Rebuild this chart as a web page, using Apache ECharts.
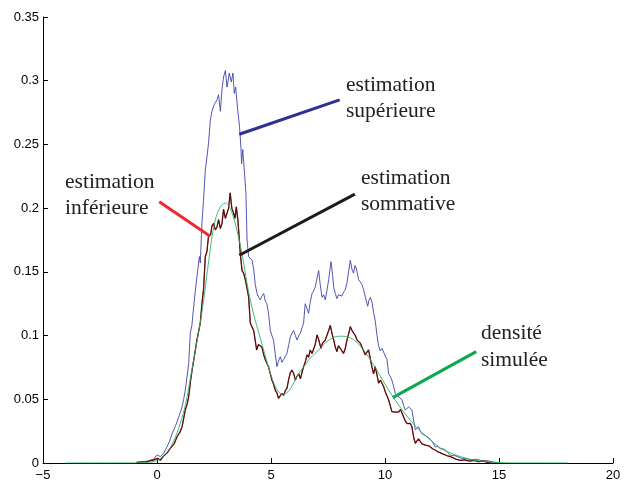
<!DOCTYPE html>
<html>
<head>
<meta charset="utf-8">
<script src="https://cdn.jsdelivr.net/npm/echarts@6/dist/echarts.min.js"></script>
<style>
html, body { margin: 0; padding: 0; background: #fff; }
#chart { width: 624px; height: 483px; }
</style>
</head>
<body>
<div id="chart"></div>
<script>
// courbes, [x, densité]
const densiteSimulee = [
  [-4, 0], [-3, 0], [-2, 0], [-1, 0], [-0.5, 0.0003], [0, 0.002], [0.25, 0.005], [0.5, 0.01],
  [0.75, 0.018], [1, 0.03], [1.25, 0.046], [1.5, 0.07], [1.75, 0.095], [2, 0.122],
  [2.25, 0.156], [2.5, 0.186], [2.75, 0.2], [3, 0.204], [3.25, 0.198], [3.5, 0.183],
  [3.75, 0.162], [4, 0.136], [4.25, 0.116], [4.5, 0.1], [4.75, 0.084], [5, 0.069],
  [5.25, 0.058], [5.5, 0.054], [5.75, 0.056], [6, 0.063], [6.25, 0.071], [6.5, 0.077],
  [6.75, 0.083], [7, 0.087], [7.5, 0.096], [8, 0.0995], [8.5, 0.098], [9, 0.09],
  [9.5, 0.077], [10, 0.062], [10.5, 0.048], [11, 0.036], [11.5, 0.026], [12, 0.018],
  [12.5, 0.011], [13, 0.007], [13.5, 0.004], [14, 0.002], [14.5, 0.001], [15, 0.0003],
  [16, 0], [17, 0], [18, 0]
];

const sommative = [
  [-0.9, 0.0005], [-0.5, 0.001], [-0.2, 0.002], [0.03, 0.0037], [0.15, 0.002], [0.29, 0.0055],
  [0.45, 0.008], [0.58, 0.0115], [0.75, 0.015], [0.88, 0.0206], [1.0, 0.024], [1.1, 0.0285],
  [1.17, 0.035], [1.24, 0.0416], [1.32, 0.046], [1.39, 0.052], [1.46, 0.063], [1.54, 0.073],
  [1.65, 0.085], [1.75, 0.0965], [1.83, 0.098], [1.9, 0.11], [1.97, 0.125], [2.04, 0.136],
  [2.12, 0.162], [2.19, 0.166], [2.26, 0.178], [2.35, 0.179], [2.41, 0.186], [2.48, 0.188],
  [2.56, 0.183], [2.63, 0.185], [2.7, 0.191], [2.78, 0.184], [2.85, 0.188], [2.92, 0.199],
  [3.0, 0.192], [3.07, 0.196], [3.14, 0.2], [3.21, 0.212], [3.28, 0.2], [3.36, 0.196],
  [3.42, 0.192], [3.48, 0.201], [3.55, 0.19], [3.58, 0.183], [3.65, 0.165], [3.73, 0.151],
  [3.8, 0.149], [3.87, 0.144], [3.95, 0.137], [4.02, 0.13], [4.09, 0.11], [4.16, 0.107],
  [4.24, 0.104], [4.3, 0.097], [4.37, 0.0887], [4.45, 0.093], [4.53, 0.094], [4.6, 0.091],
  [4.68, 0.085], [4.75, 0.081], [4.82, 0.08], [4.89, 0.0756], [4.97, 0.07], [5.04, 0.065],
  [5.11, 0.062], [5.19, 0.057], [5.26, 0.055], [5.33, 0.0508], [5.41, 0.052], [5.48, 0.0547],
  [5.55, 0.053], [5.63, 0.057], [5.7, 0.0586], [5.78, 0.066], [5.85, 0.071], [5.92, 0.073],
  [6.0, 0.07], [6.07, 0.065], [6.14, 0.068], [6.22, 0.07], [6.29, 0.066], [6.36, 0.071],
  [6.43, 0.0756], [6.5, 0.079], [6.58, 0.0848], [6.65, 0.083], [6.72, 0.0887], [6.8, 0.086],
  [6.87, 0.0848], [6.94, 0.093], [7.02, 0.1005], [7.09, 0.097], [7.19, 0.09], [7.26, 0.094],
  [7.31, 0.093], [7.38, 0.0965], [7.45, 0.1], [7.53, 0.104], [7.6, 0.108], [7.67, 0.102],
  [7.75, 0.0965], [7.82, 0.091], [7.89, 0.0874], [7.96, 0.092], [8.04, 0.09], [8.11, 0.088],
  [8.18, 0.086], [8.26, 0.09], [8.33, 0.0965], [8.4, 0.101], [8.48, 0.107], [8.55, 0.104],
  [8.62, 0.103], [8.7, 0.1], [8.77, 0.0965], [8.84, 0.097], [8.92, 0.094], [8.99, 0.0926],
  [9.06, 0.088], [9.14, 0.0848], [9.21, 0.087], [9.28, 0.0887], [9.36, 0.088], [9.43, 0.075],
  [9.5, 0.07], [9.57, 0.0756], [9.65, 0.069], [9.72, 0.0626], [9.8, 0.065], [9.87, 0.066],
  [9.94, 0.06], [10.01, 0.056], [10.08, 0.053], [10.16, 0.0494], [10.23, 0.045], [10.3, 0.0403],
  [10.38, 0.039], [10.45, 0.04], [10.53, 0.039], [10.6, 0.04], [10.68, 0.042], [10.75, 0.0416],
  [10.82, 0.036], [10.89, 0.033], [10.96, 0.031], [11.04, 0.03], [11.11, 0.031], [11.18, 0.0285],
  [11.26, 0.02], [11.33, 0.0155], [11.4, 0.017], [11.47, 0.019], [11.55, 0.018], [11.62, 0.015],
  [11.7, 0.016], [11.77, 0.014], [11.85, 0.013], [11.92, 0.0135], [11.99, 0.0128], [12.1, 0.011],
  [12.2, 0.0102], [12.3, 0.009], [12.43, 0.008], [12.55, 0.007], [12.65, 0.0063], [12.75, 0.0055],
  [12.87, 0.005], [13.0, 0.004], [13.1, 0.003], [13.3, 0.002], [13.5, 0.0025], [13.7, 0.0015],
  [13.9, 0.002], [14.1, 0.001], [14.3, 0.0015], [14.5, 0.0005], [14.7, 0]
];

// l'estimation inférieure est confondue avec la sommative sur la figure
const inferieure = sommative;

const superieure = [
  [-0.45, 0.0005], [-0.29, 0.0024], [-0.15, 0.003], [0, 0.0063], [0.08, 0.007], [0.15, 0.005],
  [0.3, 0.008], [0.44, 0.0128], [0.55, 0.017], [0.66, 0.023], [0.8, 0.0285], [0.95, 0.036],
  [1.03, 0.04], [1.1, 0.044], [1.17, 0.05], [1.24, 0.057], [1.32, 0.056], [1.39, 0.078],
  [1.46, 0.102], [1.53, 0.108], [1.61, 0.123], [1.68, 0.135], [1.75, 0.146], [1.86, 0.162],
  [1.9, 0.157], [1.97, 0.188], [2.04, 0.206], [2.12, 0.23], [2.19, 0.24], [2.26, 0.251],
  [2.34, 0.269], [2.41, 0.276], [2.48, 0.28], [2.56, 0.283], [2.63, 0.285], [2.7, 0.289],
  [2.78, 0.276], [2.85, 0.293], [2.92, 0.303], [3.0, 0.308], [3.07, 0.295], [3.12, 0.3],
  [3.17, 0.306], [3.26, 0.299], [3.33, 0.306], [3.39, 0.29], [3.45, 0.295], [3.54, 0.277],
  [3.62, 0.264], [3.68, 0.248], [3.71, 0.235], [3.76, 0.246], [3.84, 0.227], [3.9, 0.212],
  [3.95, 0.175], [4.02, 0.162], [4.1, 0.163], [4.17, 0.159], [4.24, 0.152], [4.31, 0.14],
  [4.39, 0.133], [4.46, 0.13], [4.53, 0.128], [4.6, 0.131], [4.68, 0.133], [4.75, 0.127],
  [4.82, 0.125], [4.89, 0.1175], [4.97, 0.104], [5.04, 0.1], [5.11, 0.0965], [5.19, 0.085],
  [5.26, 0.0756], [5.33, 0.08], [5.41, 0.0834], [5.48, 0.079], [5.55, 0.081], [5.63, 0.084],
  [5.7, 0.086], [5.78, 0.093], [5.85, 0.099], [5.92, 0.102], [5.99, 0.104], [6.07, 0.1],
  [6.14, 0.0965], [6.22, 0.1], [6.29, 0.102], [6.36, 0.106], [6.43, 0.11], [6.5, 0.125],
  [6.58, 0.121], [6.65, 0.1175], [6.72, 0.126], [6.8, 0.133], [6.87, 0.135], [6.94, 0.138],
  [7.02, 0.145], [7.09, 0.151], [7.16, 0.14], [7.24, 0.13], [7.31, 0.132], [7.38, 0.128],
  [7.45, 0.135], [7.53, 0.144], [7.63, 0.158], [7.7, 0.148], [7.75, 0.138], [7.82, 0.133],
  [7.89, 0.129], [7.96, 0.132], [8.04, 0.133], [8.11, 0.131], [8.18, 0.134], [8.26, 0.136],
  [8.33, 0.141], [8.4, 0.15], [8.48, 0.159], [8.55, 0.152], [8.62, 0.149], [8.68, 0.155],
  [8.74, 0.153], [8.84, 0.144], [8.92, 0.143], [8.99, 0.14], [9.06, 0.136], [9.14, 0.13],
  [9.24, 0.123], [9.3, 0.128], [9.36, 0.13], [9.43, 0.126], [9.5, 0.118], [9.57, 0.112],
  [9.65, 0.1], [9.72, 0.092], [9.79, 0.088], [9.87, 0.09], [9.94, 0.091], [10.01, 0.084],
  [10.09, 0.081], [10.16, 0.07], [10.23, 0.068], [10.3, 0.065], [10.38, 0.06], [10.45, 0.0547],
  [10.53, 0.055], [10.6, 0.052], [10.68, 0.051], [10.75, 0.0494], [10.82, 0.045], [10.89, 0.0416],
  [10.96, 0.043], [11.04, 0.044], [11.11, 0.043], [11.18, 0.0416], [11.26, 0.033], [11.33, 0.026],
  [11.4, 0.027], [11.47, 0.0285], [11.55, 0.025], [11.62, 0.023], [11.7, 0.022], [11.77, 0.0215],
  [11.84, 0.021], [11.91, 0.02], [11.99, 0.019], [12.06, 0.017], [12.13, 0.015], [12.2, 0.0128],
  [12.28, 0.013], [12.35, 0.0128], [12.43, 0.011], [12.5, 0.0102], [12.58, 0.011], [12.65, 0.0115],
  [12.72, 0.009], [12.8, 0.0076], [12.87, 0.006], [12.94, 0.005], [13.02, 0.006], [13.1, 0.007],
  [13.2, 0.005], [13.3, 0.004], [13.45, 0.0035], [13.6, 0.0033], [13.8, 0.0025], [14.0, 0.003],
  [14.2, 0.002], [14.45, 0.002], [14.7, 0.001], [15.0, 0]
];

// traits de rappel des étiquettes, en coordonnées des axes
const traitSup = [[3.61, 0.258], [8.01, 0.285]];
const traitInf = [[0.1, 0.205], [2.33, 0.178]];
const traitSom = [[3.61, 0.163], [8.68, 0.211]];
const traitDens = [[10.34, 0.0513], [14.0, 0.0874]];

const chart = echarts.init(document.getElementById('chart'));

function trait(pts, color) {
  return {
    silent: true,
    symbol: 'none',
    animation: false,
    label: { show: false },
    lineStyle: { color: color, width: 3, type: 'solid' },
    data: [[{ coord: pts[0] }, { coord: pts[1] }]]
  };
}

function etiquette(text, x, y) {
  return {
    type: 'text',
    x: x,
    y: y,
    style: {
      text: text,
      font: '21.5px "Liberation Serif", "Times New Roman", serif',
      fill: '#222',
      align: 'left',
      verticalAlign: 'middle'
    }
  };
}

const axisFont = { fontFamily: '"Liberation Sans", Arial, sans-serif', fontSize: 13, color: '#000' };

const option = {
  backgroundColor: '#fff',
  animation: false,
  grid: { left: 43, right: 11, top: 17, bottom: 20, containLabel: false },
  xAxis: {
    type: 'value',
    min: -5,
    max: 20,
    interval: 5,
    axisLine: { show: true, onZero: false, lineStyle: { color: '#000', width: 1 } },
    axisTick: { show: true, inside: true, length: 5, lineStyle: { color: '#000' } },
    axisLabel: Object.assign({ margin: 6, formatter: v => (v < 0 ? '\u2212' + (-v) : String(v)) }, axisFont),
    splitLine: { show: false }
  },
  yAxis: {
    type: 'value',
    min: 0,
    max: 0.35,
    interval: 0.05,
    axisLine: { show: true, onZero: false, lineStyle: { color: '#000', width: 1 } },
    axisTick: { show: true, inside: true, length: 5, lineStyle: { color: '#000' } },
    axisLabel: Object.assign({ margin: 4 }, axisFont),
    splitLine: { show: false }
  },
  series: [
    {
      name: 'estimation supérieure',
      type: 'line',
      data: superieure,
      showSymbol: false,
      lineStyle: { color: '#3f44a8', width: 0.9 },
      markLine: trait(traitSup, '#2e3192')
    },
    {
      name: 'estimation inférieure',
      type: 'line',
      data: inferieure,
      showSymbol: false,
      lineStyle: { color: '#a01c1c', width: 1.3 },
      markLine: trait(traitInf, '#ee2a2e')
    },
    {
      name: 'estimation sommative',
      type: 'line',
      data: sommative,
      showSymbol: false,
      lineStyle: { color: '#2a0a0a', width: 0.7 },
      markLine: trait(traitSom, '#1f1a1a')
    },
    {
      name: 'densité simulée',
      type: 'line',
      data: densiteSimulee,
      smooth: 0.4,
      showSymbol: false,
      lineStyle: { color: '#2bb36a', width: 0.9 },
      markLine: trait(traitDens, '#0aa84f')
    }
  ],
  graphic: [
    etiquette('estimation', 346, 85),
    etiquette('supérieure', 346, 111),
    etiquette('estimation', 65, 182),
    etiquette('inférieure', 65, 208),
    etiquette('estimation', 361, 178),
    etiquette('sommative', 361, 204),
    etiquette('densité', 481, 333),
    etiquette('simulée', 481, 360)
  ]
};

chart.setOption(option);
</script>
</body>
</html>
